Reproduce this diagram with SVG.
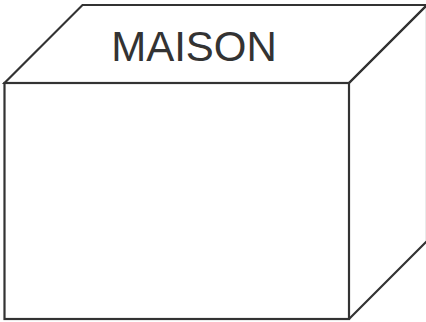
<svg xmlns="http://www.w3.org/2000/svg" width="426" height="322" viewBox="0 0 426 322">
<style>
.edge{fill:none;stroke:#333;stroke-width:2.2;stroke-linejoin:miter}
.label{font-family:"Liberation Sans",Arial,sans-serif;font-size:42px;fill:#333}
</style>
<rect width="426" height="322" fill="#fff"/>
<g id="box">
<polygon class="edge" points="4.5,83 82.5,5 427,5 349,83"/>
<rect class="edge" x="4.5" y="83" width="344.5" height="236"/>
<polyline class="edge" points="349,83 427,5 427,241 349,319"/>
</g>
<g id="label">
<text class="label" x="194" y="61" text-anchor="middle">MAISON</text>
</g>
</svg>
